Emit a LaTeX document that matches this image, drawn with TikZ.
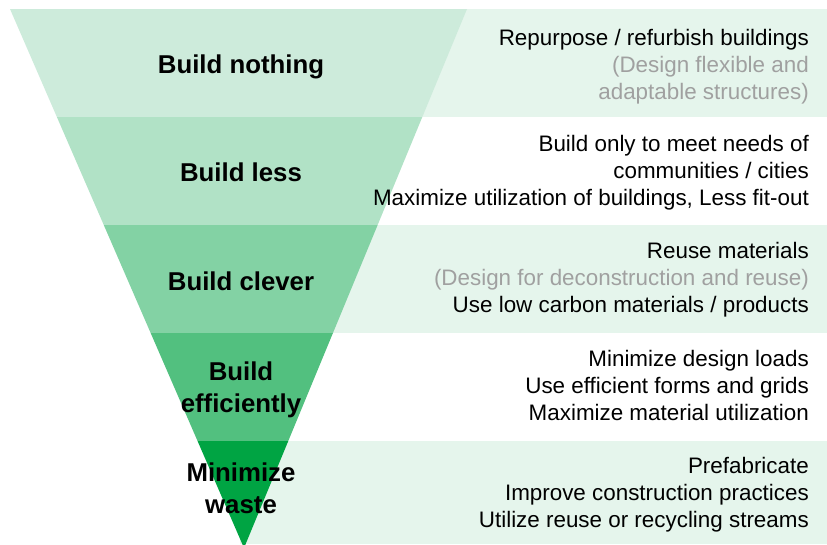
\documentclass[tikz,border=0pt]{standalone}
\usepackage{fontspec}
\setmainfont{Liberation Sans}
\definecolor{bandA}{HTML}{CDEBDB}
\definecolor{bandB}{HTML}{B1E2C6}
\definecolor{bandC}{HTML}{83D2A4}
\definecolor{bandD}{HTML}{52C07F}
\definecolor{bandE}{HTML}{00A443}
\definecolor{panelbg}{HTML}{E5F5EC}
\definecolor{graytxt}{HTML}{A0A0A0}
\tikzset{
  lvl/.style={font=\fontsize{25.8}{32}\selectfont\bfseries, align=center, text=black, inner sep=0pt},
  desc/.style={font=\fontsize{22.4}{27}\selectfont, align=right, anchor=east, text=black, inner sep=0pt},
}
\begin{document}
\begin{tikzpicture}[x=1pt,y=-1pt]
\useasboundingbox (0,0) rectangle (827,544);
% right panels
\fill[panelbg] (240,9) rectangle (827,117);
\fill[panelbg] (240,225) rectangle (827,333);
\fill[panelbg] (240,441) rectangle (827,544);
% triangle bands
\begin{scope}
\clip (10,9) -- (467,9) -- (244,548) -- cycle;
\fill[bandA] (0,9) rectangle (480,117);
\fill[bandB] (0,117) rectangle (480,225);
\fill[bandC] (0,225) rectangle (480,333);
\fill[bandD] (0,333) rectangle (480,441);
\fill[bandE] (0,441) rectangle (480,560);
\end{scope}
% level labels
\node[lvl] (l1) at (241,67) {Build nothing};
\node[lvl] (l2) at (241,172) {Build less};
\node[lvl] (l3) at (241,281) {Build clever};
\node[lvl] (l4) at (241,390) {Build\\efficiently};
\node[lvl] (l5) at (241,488) {Minimize\\waste};
% descriptions
\node[desc] (d1) at (809,67) {Repurpose / refurbish buildings\\\textcolor{graytxt}{(Design flexible and}\\\textcolor{graytxt}{adaptable structures)}};
\node[desc] (d2) at (809,173) {Build only to meet needs of\\communities / cities\\Maximize utilization of buildings, Less fit-out};
\node[desc] (d3) at (809,280) {Reuse materials\\\textcolor{graytxt}{(Design for deconstruction and reuse)}\\Use low carbon materials / products};
\node[desc] (d4) at (809,385) {Minimize design loads\\Use efficient forms and grids\\Maximize material utilization};
\node[desc] (d5) at (809,495) {Prefabricate\\Improve construction practices\\Utilize reuse or recycling streams};
\end{tikzpicture}
\end{document}
